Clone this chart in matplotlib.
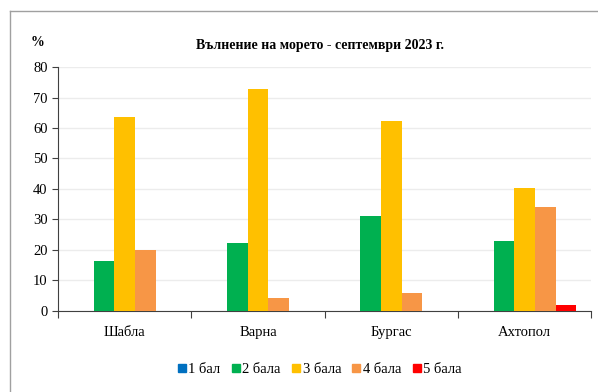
import numpy as np
import matplotlib
matplotlib.use('Agg')
import matplotlib.pyplot as plt
from matplotlib.lines import Line2D

plt.rcParams['font.family'] = ['Liberation Serif', 'DejaVu Serif']

towns = ['Шабла', 'Варна', 'Бургас', 'Ахтопол']
series = ['1 бал', '2 бала', '3 бала', '4 бала', '5 бала']
colors = ['#0070c0', '#00b050', '#ffc000', '#f79646', '#ff0000']

bal1 = [0, 0, 0, 0]
bal2 = [16.2, 22.4, 31.0, 23.0]
bal3 = [63.6, 72.8, 62.2, 40.3]
bal4 = [19.9, 4.3, 6.0, 34.2]
bal5 = [0, 0, 0, 1.9]
values = [bal1, bal2, bal3, bal4, bal5]

fig = plt.figure(figsize=(5.98, 3.92), dpi=100)
ax = fig.add_axes([0.097, 0.207, 0.892, 0.622])

x = np.arange(len(towns))
w = 0.155
for i, (vals, c) in enumerate(zip(values, colors)):
    ax.bar(x + (i - 2) * w, vals, width=w, color=c, zorder=3)

ax.set_xlim(-0.5, 3.5)
ax.set_ylim(0, 80)
ax.set_yticks(range(0, 81, 10))
ax.set_xticks(np.arange(-0.5, 4, 1))
ax.set_xticklabels([])
ax.set_xticks(x, minor=True)
ax.set_xticklabels(towns, minor=True)
ax.tick_params(axis='x', which='minor', length=0, pad=11, labelsize=10.5)
ax.tick_params(axis='x', which='major', length=5, color='#404040')
ax.tick_params(axis='y', length=4, labelsize=10.5, color='#404040')
ax.grid(axis='y', color='#ececec', linewidth=1, zorder=0)
for s in ['top', 'right']:
    ax.spines[s].set_visible(False)
for s in ['left', 'bottom']:
    ax.spines[s].set_color('#404040')

fig.text(320 / 598, 1 - 45 / 392, 'Вълнение на морето - септември 2023 г.', ha='center', va='center',
         fontsize=10, fontweight='bold')
fig.text(38 / 598, 1 - 42 / 392, '%', ha='center', va='center', fontsize=10, fontweight='bold')

handles = [Line2D([], [], marker='s', linestyle='none', color=c, markersize=6) for c in colors]
fig.legend(handles, series, loc='center', bbox_to_anchor=(320 / 598, 1 - 369 / 392), ncol=5,
           frameon=False, fontsize=10.5, handletextpad=0.2, columnspacing=0.8, handlelength=0.5)

# outer frame (partly cut off in the original)
fig.add_artist(Line2D([9.5 / 598, 9.5 / 598], [0, 1 - 11 / 392], transform=fig.transFigure, color='#a0a0a0', lw=1))
fig.add_artist(Line2D([9.5 / 598, 1], [1 - 11 / 392, 1 - 11 / 392], transform=fig.transFigure, color='#a0a0a0', lw=1))

fig.savefig('out.png', dpi=100)
